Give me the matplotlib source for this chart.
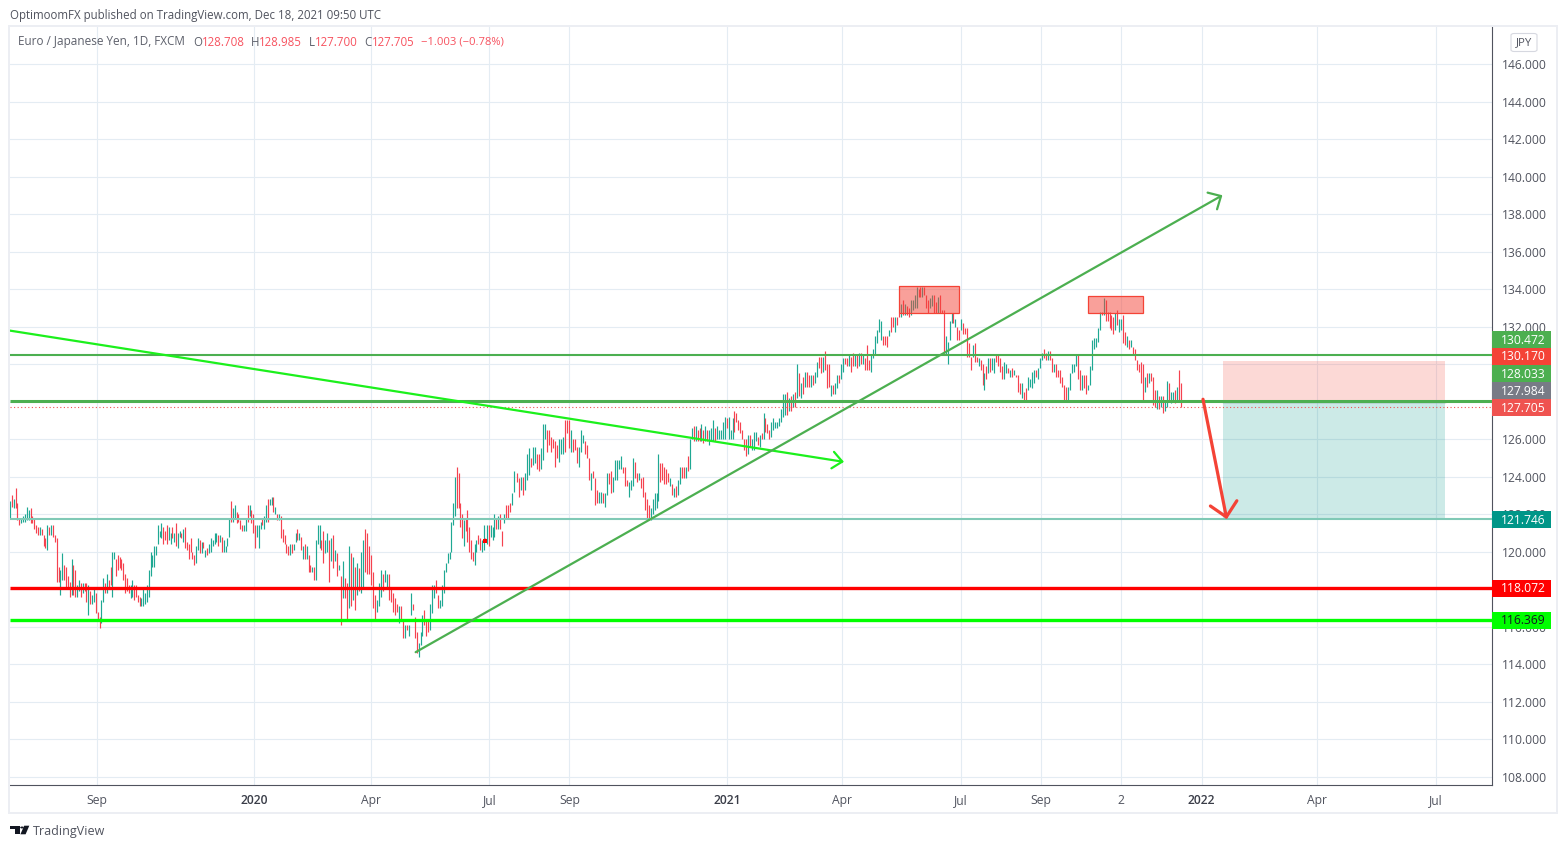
import numpy as np
import matplotlib
matplotlib.use("Agg")
import matplotlib.pyplot as plt
from matplotlib.patches import Rectangle, Polygon, Circle, FancyBboxPatch

FONT = "Open Sans"
plt.rcParams["font.family"] = FONT
W, H = 1566, 848

# ---------------- data ----------------
highs = [
122.7,123.0,122.8,123.4,122.6,121.8,121.8,121.9,122.0,122.4,
122.2,122.3,121.9,121.8,121.4,121.3,121.3,121.2,120.9,120.7,
121.4,121.3,121.4,121.4,120.9,120.7,119.2,119.0,119.9,119.3,
119.2,118.7,118.4,119.6,119.3,119.0,118.2,118.5,118.3,118.3,
118.3,118.3,118.2,117.9,117.7,118.0,117.8,116.8,116.5,117.4,
118.6,118.3,118.8,118.5,119.2,120.0,120.0,119.6,119.8,119.7,
119.6,119.4,118.8,118.6,118.2,118.2,118.5,118.2,118.2,117.7,
117.6,117.5,118.0,117.8,118.2,119.0,120.0,119.8,120.3,120.3,
121.4,121.1,121.5,121.3,121.1,121.4,121.3,121.0,121.3,121.0,
121.5,121.0,121.1,121.0,121.2,121.3,120.5,120.4,120.7,120.0,
119.8,120.3,120.7,120.6,120.5,120.5,120.1,120.2,120.4,120.7,
120.6,121.0,121.0,120.9,120.9,120.8,120.6,120.3,120.7,121.8,
122.7,122.3,122.5,122.1,122.0,121.7,121.4,121.4,121.8,122.5,
122.5,122.2,122.0,121.4,121.4,121.4,121.6,121.8,121.9,122.5,
122.8,122.8,122.9,122.9,122.4,122.0,122.0,121.9,121.2,120.9,
120.4,120.3,120.4,120.4,120.4,121.0,121.2,121.0,120.8,120.3,
120.4,120.3,119.8,119.3,119.2,119.2,120.6,121.4,121.4,120.6,
121.1,120.6,121.0,120.6,120.7,120.9,120.1,119.9,119.3,118.7,
119.5,118.6,118.3,120.3,119.9,119.7,119.2,119.4,119.1,120.0,
120.6,121.2,121.0,120.3,119.8,118.9,117.7,117.4,118.3,119.0,
118.8,119.0,118.8,118.8,118.0,117.8,117.5,117.2,117.1,117.1,
116.3,116.1,116.1,116.1,117.8,117.2,116.5,115.7,115.1,115.7,
116.6,116.9,116.3,116.3,117.2,118.2,118.2,118.5,117.7,117.4,
118.2,119.0,119.4,119.9,120.0,121.6,122.6,124.0,124.5,124.2,
122.6,122.0,121.7,121.8,122.2,121.3,120.6,120.0,120.4,120.6,
120.9,120.7,120.6,121.4,120.7,121.4,121.4,121.4,121.3,122.0,
121.8,121.9,122.0,121.1,122.0,122.5,122.5,122.6,123.1,124.3,
124.2,123.9,124.0,124.0,124.2,125.2,125.5,125.0,125.6,125.6,
125.2,125.2,125.5,126.8,126.8,126.5,126.5,126.1,126.0,125.9,
125.7,126.0,126.0,126.1,127.0,127.0,127.0,126.5,126.0,126.0,
125.6,125.6,126.5,126.2,125.9,125.7,125.0,124.2,124.3,123.9,
123.3,123.2,123.2,123.1,123.1,124.2,124.2,124.3,124.0,124.9,
124.9,124.9,125.1,124.5,124.5,123.8,123.7,123.8,125.0,124.8,
124.2,124.2,123.9,124.0,123.2,122.8,122.5,122.3,122.8,123.1,
123.1,125.2,124.7,124.7,124.5,124.4,124.2,123.9,123.6,123.4,
123.5,123.8,124.5,124.5,124.5,124.5,125.1,126.0,126.6,126.7,
126.7,126.5,126.6,126.8,126.5,126.7,126.5,126.5,126.6,127.0,
126.6,126.7,126.5,126.5,126.9,127.2,127.1,127.2,126.5,127.1,
127.5,127.4,127.0,126.9,126.5,126.0,126.0,126.2,126.2,126.0,
126.4,126.4,126.1,126.2,126.3,127.4,127.1,126.8,126.5,126.9,
127.1,126.9,126.9,127.1,127.6,128.4,128.4,128.5,128.2,128.3,
128.4,128.5,130.0,129.5,129.0,129.3,129.6,129.6,129.4,129.4,
129.4,129.6,130.1,130.4,130.4,130.4,130.7,130.0,130.0,128.9,
128.9,129.0,129.4,129.4,130.0,130.3,130.3,130.3,130.5,130.4,
130.6,130.5,130.5,130.6,130.6,130.5,130.3,131.0,130.2,130.5,
130.8,131.5,131.8,132.4,132.3,131.5,131.5,131.5,131.8,132.5,
132.5,132.5,132.5,132.7,133.2,133.4,133.2,133.1,133.0,133.4,
133.4,133.7,134.1,134.0,134.1,134.1,134.1,133.7,133.4,133.5,
133.7,133.7,133.3,133.6,133.7,132.9,132.9,131.5,131.2,132.3,
132.7,132.7,132.4,132.0,131.8,132.4,132.2,131.9,131.9,131.1,
130.4,131.0,131.1,130.4,130.3,130.2,130.0,129.5,129.9,130.3,
130.3,130.3,130.3,130.5,130.5,130.3,129.9,130.1,130.0,129.8,
129.7,129.8,129.7,129.4,129.4,129.0,129.0,128.5,128.7,129.3,
129.2,129.6,129.7,129.7,129.8,130.3,130.6,130.8,130.6,130.7,
130.7,130.3,130.0,130.0,129.7,129.7,129.3,128.9,128.8,128.8,
129.5,130.0,130.0,130.5,130.5,129.7,129.4,129.4,129.4,128.9,
129.9,131.3,131.4,131.4,131.9,132.8,132.8,133.5,133.4,132.8,
132.8,132.6,132.5,132.7,132.9,132.4,132.4,132.6,131.7,131.5,
131.3,131.3,130.9,130.8,130.2,130.0,130.1,130.0,129.3,129.5,
129.5,129.5,129.3,128.6,128.6,128.3,128.3,128.3,128.1,129.1,
129.0,128.5,128.5,128.6,128.8,129.7,128.985,
]
lows = [
121.8,122.4,122.3,122.3,121.7,121.4,121.5,121.6,121.6,121.7,
121.7,121.5,121.5,121.2,121.0,120.9,120.9,120.9,120.3,120.2,
120.1,120.9,120.9,120.8,120.5,118.4,118.4,117.7,118.5,118.5,
118.0,118.0,117.6,117.7,117.7,117.6,117.6,117.9,117.6,117.8,
117.9,117.3,116.6,117.2,117.2,117.3,116.7,116.4,115.9,116.2,
117.3,117.8,117.8,118.1,118.2,117.6,119.6,118.7,119.0,119.1,
119.0,118.5,117.8,117.9,117.8,117.5,117.6,117.4,117.6,117.3,
117.1,117.1,117.1,117.2,117.3,117.6,118.7,119.2,119.2,119.8,
120.4,120.8,120.7,120.4,120.6,120.4,120.6,120.4,120.7,120.5,
120.3,120.2,120.8,120.7,120.5,120.2,120.1,119.6,120.0,119.6,
119.3,119.4,120.1,119.9,119.9,120.2,119.7,119.8,119.9,120.0,
120.3,120.4,120.5,120.3,120.5,120.0,120.0,120.0,120.3,120.8,
121.6,121.6,121.8,121.5,121.6,121.2,121.1,121.1,121.1,121.6,
121.9,121.5,121.0,120.2,120.8,120.2,121.2,121.4,121.2,121.6,
121.6,122.5,122.5,122.1,122.0,121.7,121.7,120.7,120.5,120.4,
119.9,119.8,119.8,119.9,120.1,120.5,120.6,120.6,120.1,119.6,
119.6,119.6,118.9,118.9,118.9,118.5,118.5,120.4,120.2,120.1,
119.4,119.9,120.0,118.4,119.5,119.1,119.5,118.7,119.0,116.1,
117.5,117.5,116.4,117.0,117.1,117.4,116.9,117.7,117.9,117.8,
118.0,118.9,118.8,118.8,118.2,117.0,116.4,116.8,117.1,117.6,
117.9,118.4,118.0,117.4,117.3,116.8,116.6,116.8,116.2,116.4,
115.4,115.4,115.8,115.5,116.6,116.9,115.4,114.6,114.4,115.0,
115.5,116.1,115.5,115.7,115.8,116.7,117.5,117.8,117.0,117.0,
117.1,117.8,118.9,119.4,119.6,120.0,121.4,121.9,122.3,122.3,
121.3,120.7,120.3,121.1,120.5,120.0,119.6,119.5,119.3,120.0,
120.4,120.1,120.0,120.1,120.5,120.4,120.3,120.8,120.6,120.8,
121.2,121.2,121.2,120.3,121.5,121.8,121.8,122.1,122.5,123.2,
123.7,122.9,123.3,123.0,123.3,123.8,124.1,124.5,124.6,124.7,
124.4,124.3,124.4,124.9,126.0,125.3,125.7,125.3,125.5,124.5,
125.0,124.8,125.2,125.2,125.3,126.3,125.5,125.3,125.3,125.4,
124.7,124.5,125.3,125.8,125.2,125.0,123.8,123.3,123.9,122.5,
122.6,122.6,122.6,122.6,122.4,123.0,123.6,123.1,123.2,123.8,
123.8,124.4,124.4,124.2,123.5,123.5,122.9,123.3,123.5,123.9,
123.7,123.8,123.4,122.9,122.2,121.7,121.7,121.7,122.0,122.2,
122.3,122.7,123.7,123.8,123.6,123.6,123.7,123.5,123.0,122.9,
122.9,123.0,123.6,123.9,123.9,123.9,124.3,124.4,126.0,125.9,
125.9,125.9,125.9,125.9,125.8,125.9,125.9,125.7,125.9,125.9,
125.9,126.0,126.0,126.0,126.0,126.0,126.6,126.0,126.0,126.0,
126.4,126.9,126.5,126.3,126.0,125.4,125.1,125.2,125.6,125.4,
125.4,125.9,125.7,125.6,126.0,126.0,126.4,126.3,126.0,126.1,
126.5,126.6,126.6,126.7,126.9,127.2,127.3,127.3,127.5,127.5,
127.7,127.7,128.2,128.3,128.2,128.4,128.8,128.8,128.8,128.8,
128.9,129.0,129.3,129.8,129.5,129.6,129.7,128.7,128.8,128.3,
128.4,128.4,128.7,129.0,129.2,129.6,130.0,129.9,129.9,129.6,
129.9,129.9,129.8,129.9,130.0,130.0,129.7,129.7,129.7,129.6,
130.3,130.5,131.1,131.7,131.3,131.0,131.0,130.9,131.5,131.7,
132.0,131.7,132.1,132.5,132.5,132.6,132.6,132.6,132.5,132.6,
132.9,133.0,133.0,133.6,133.6,133.6,133.7,133.0,132.7,133.0,
133.1,132.7,132.7,132.7,132.7,132.7,130.6,130.5,130.0,131.3,
132.2,132.2,132.0,131.3,131.3,131.8,131.6,131.6,130.4,130.4,
129.7,130.4,130.1,130.1,129.9,129.7,128.9,128.6,129.2,129.5,
129.6,129.7,129.5,130.1,129.9,129.6,129.2,129.2,129.5,129.5,
129.3,129.3,129.4,129.3,128.5,128.4,128.2,128.0,128.0,128.6,
128.8,128.7,129.0,129.3,129.2,129.8,130.2,130.3,130.2,130.2,
130.2,129.6,129.6,129.3,129.3,129.0,128.8,128.1,128.1,128.1,
128.6,129.5,129.6,129.9,129.2,128.6,128.6,128.7,128.4,128.6,
128.9,129.7,130.8,130.9,131.2,131.8,132.6,132.6,132.3,132.3,
131.9,131.8,131.6,131.8,132.1,131.7,131.8,131.1,131.0,130.9,
130.8,130.9,130.5,130.2,129.7,129.6,129.0,128.1,128.5,128.8,
129.0,129.1,127.8,127.7,127.6,127.6,127.7,127.4,127.5,127.7,
128.0,127.9,128.1,127.9,128.0,128.0,127.7,
]
bar_direction = """
u d u d d d u u u u
u d d d d d u d d d
u d u d d d d u u d
d d d u d d u u d u
d d u d u u d d d u
u d u d d u u d d d
d d d d d u u d d d
d u u u u u u u u u
u u u d d d u u d u
d u u d u d d d d d
d u u d u d u d u u
u u u d u d u u u u
d u u d d d d u u d
u d d d u u u d u u
d u u d u d u d d d
d d u d u u d u d u
d u d d u d u u u d
d u u d u d u d u d
u d d u d u d u d u
u d d d d d d u u u
d u u d d d d d u d
d u d u u d d d u u
u d d d u u u d d u
u u u u u u u u d d
d d u d d d d d u u
d d u u d u d u u u
d u d d u d d d u u
d d u d u u u d u u
d d u u u d d d d d
d u u u d d d u d d
d u u u d d d u d d
d u u d u u d d u u
u u u d d d u u u d
d u d d d d d u u u
u u d d d d d u d u
d u u d d u d u u d
u d d u d u d u u u
d u u u u u d u u u
d d d d d d d u d u
u u d u d u d d d u
u u u u u u u d u d
u d u d u d u d d u
d u u d d u d d d u
d u u d u u d d u d
d u d u d u d d d u
u u u u u d d d u d
d u d d u d u d d u
u u u d d u d d d u
u d d u d d d u u u
u d u d d u d d d d
d u d d u d d u d u
d u u d d d d u u d
u d u d d d u d d u
u u u d u u u d d u
d d u d d d d d d u
u u u u d d u d d u
u u u u u u d u d d
d d d u d u u d d u
d u d d d d d d u d
u d d d u d u d u u
d u u d u d d
""".split()

if not (len(highs) == len(lows) == len(bar_direction)):
    raise SystemExit(f"lengths {len(highs)} {len(lows)} {len(bar_direction)}")

price_ticks = list(range(108, 148, 2))
time_labels = ["Sep", "2020", "Apr", "Jul", "Sep", "2021", "Apr", "Jul", "Sep", "2", "2022", "Apr", "Jul"]
time_ticks = [48.1, 134.6, 199.0, 264.1, 308.2, 395.2, 458.6, 524.1, 568.2, 612.3, 656.6, 720.1, 785.7]

level_resistance = 130.472
level_entry = 128.033
level_last = 127.705
level_target = 121.746
level_red = 118.072
level_lime = 116.369
level_stop = 130.170

tag_values = ["130.472", "130.170", "128.033", "127.984", "127.705", "121.746", "118.072", "116.369"]
tag_colors = ["#4caf50", "#f44336", "#4caf50", "#787b86", "#ef5350", "#009688", "#ff0000", "#00ff00"]
tag_text_colors = ["white"] * 7 + ["#131722"]
tag_top_px = [331, 348, 365, 382, 399, 511, 580, 612]

# ---------------- geometry ----------------
L, R, T, B = 10, 1492, 27, 785
Y_A, Y_K = 776.5, 18.75     # pixel row of 108 and pixels per yen
STEP = 1.815                # pixels per session

def fx(x): return x / W
def fy(y): return 1 - y / H

fig = plt.figure(figsize=(W / 100, H / 100), dpi=100, facecolor="white")
ax = fig.add_axes([fx(L), fy(B), (R - L) / W, (B - T) / H])
ax.set_xlim(0, (R - L) / STEP)
ax.set_ylim(108 + (Y_A - B) / Y_K, 108 + (Y_A - T) / Y_K)
ax.set_facecolor("white")

GRID = "#e4ecf3"
ax.set_yticks(price_ticks)
ax.set_yticklabels([f"{p}.000" for p in price_ticks])
ax.yaxis.tick_right()
ax.set_xticks(time_ticks)
ax.set_xticklabels(time_labels)
ax.tick_params(axis="y", length=0, pad=7.3, labelsize=8.7, labelcolor="#50535e")
ax.tick_params(axis="x", length=0, pad=6.2, labelsize=8.7, labelcolor="#50535e")
for lab in ax.get_xticklabels():
    if lab.get_text().startswith("20"):
        lab.set_color("#3a3d48")
        lab.set_fontweight("semibold")
ax.grid(True, color=GRID, linewidth=0.8, zorder=0)
ax.set_axisbelow(True)
for side in ("top", "left"):
    ax.spines[side].set_visible(False)
for side in ("bottom", "right"):
    ax.spines[side].set_color("#50535e")
    ax.spines[side].set_linewidth(0.8)

# ---------------- bars ----------------
n = len(highs)
# where given bars sit on the session axis, so that dense reads stay aligned with the ticks
anchor_bars = [0, 50, 100, 170, 230, 260, 300, 350, 410, 460, 510, 560, 606]
anchor_sessions = [0, 51.4, 101.5, 172.6, 238.2, 267.9, 312.6, 367.1, 431.2, 486.7, 540.1, 594.9, 645.0]
sessions = np.interp(np.arange(n), anchor_bars, anchor_sessions)
UP, DOWN = "#1fa893", "#f5424f"
colors = [UP if d == "u" else DOWN for d in bar_direction]
bars = ax.vlines(sessions, lows, highs, colors=colors, linewidth=0.85, zorder=3)
bars.set_snap(True)
# the small red mark on the 2020 summer pullback
ax.plot([261.5], [120.57], marker="s", ms=2.6, color="#ff0000", mew=0, zorder=4)

# ---------------- drawings ----------------
END = ax.get_xlim()[1]
ax.add_patch(Rectangle((668.3, level_entry), 122.3, level_stop - level_entry, fc="#f44336", alpha=0.2, ec="none", zorder=2))
ax.add_patch(Rectangle((668.3, level_target), 122.3, level_entry - level_target, fc="#009688", alpha=0.2, ec="none", zorder=2))
ax.plot([668.3, 790.6], [127.984, 127.984], color="#787b86", lw=1.0, alpha=0.8, zorder=4)

ax.hlines(level_resistance, 0, END, color="#4caf50", lw=1.5, zorder=5)
ax.hlines(level_entry, 0, END, color="#4caf50", lw=2.2, zorder=5)
ax.hlines(level_last, 0, END, color="#ef5350", lw=0.8, linestyles=(0, (1, 2.2)), zorder=5)
ax.hlines(level_target, 0, END, color="#80c9b6", lw=1.5, zorder=5)
ax.hlines(level_red, 0, END, color="#ff0000", lw=2.4, zorder=5)
ax.hlines(level_lime, 0, END, color="#00ff00", lw=2.4, zorder=5)

def arrow(x0, y0, x1, y1, color, lw, hl, hw):
    ax.annotate("", xy=(x1, y1), xytext=(x0, y0), zorder=6,
                arrowprops=dict(arrowstyle=f"->,head_length={hl},head_width={hw}",
                                color=color, lw=lw, shrinkA=0, shrinkB=0, mutation_scale=1))

arrow(0, 131.78, 459.5, 124.78, "#1cf01c", 1.6, 7.0, 6.0)
arrow(223.5, 114.63, 668.0, 139.0, "#4caf50", 1.6, 7.2, 6.9)
arrow(657.3, 128.12, 670.4, 121.72, "#f44336", 2.3, 10.0, 9.7)

for x0, x1, y0, y1 in ((489.9, 523.0, 132.70, 134.15), (594.2, 624.5, 132.70, 133.65)):
    ax.add_patch(Rectangle((x0, y0), x1 - x0, y1 - y0, fc="#f44336", alpha=0.5, ec="none", zorder=7))
    ax.add_patch(Rectangle((x0, y0), x1 - x0, y1 - y0, fc="none", ec="#f44336", lw=0.9, zorder=7))

# ---------------- frame, tags, header ----------------
FRAME = "#eceef3"
fig.add_artist(Rectangle((fx(9), fy(813)), 1547.5 / W, 787 / H, fill=False, ec=FRAME, lw=1.4,
                         transform=fig.transFigure))
for top, val, col, tc in zip(tag_top_px, tag_values, tag_colors, tag_text_colors):
    fig.add_artist(Rectangle((fx(1492), fy(top + 17)), 59 / W, 17 / H, fc=col, ec="none",
                             transform=fig.transFigure))
    fig.text(fx(1523), fy(top + 9), val, color=tc, fontsize=8.7, ha="center", va="center")

fig.add_artist(FancyBboxPatch((fx(1511), fy(51.5)), 26 / W, 18 / H, boxstyle="round,pad=0,rounding_size=0.002",
                              fc="white", ec="#d6d8e0", lw=0.8, transform=fig.transFigure))
fig.text(fx(1524), fy(42.5), "JPY", color="#50535e", fontsize=8.2, ha="center", va="center")

DARK, GREY, RED = "#50535e", "#5d606b", "#f7525f"
fig.text(fx(10), fy(15), "OptimoomFX published on TradingView.com, Dec 18, 2021 09:50 UTC",
         color=DARK, fontsize=8.3, ha="left", va="center")
legend = [(18, "Euro / Japanese Yen, 1D, FXCM", GREY, 8.5), (193, "O", GREY, 8.3), (202, "128.708", RED, 8.3),
          (250.5, "H", GREY, 8.3), (259, "128.985", RED, 8.3), (308.5, "L", GREY, 8.3), (315, "127.700", RED, 8.3),
          (364, "C", GREY, 8.3), (371.5, "127.705", RED, 8.3), (421, "\u22121.003 (\u22120.78%)", RED, 8.1)]
for x, s, c, fs in legend:
    fig.text(fx(x), fy(42), s, color=c, fontsize=fs, ha="left", va="center")

fig.text(fx(33), fy(831.2), "TradingView", color=DARK, fontsize=9.0, ha="left", va="center")
LOGO = "#131722"
logo_polys = [[(10, 825.7), (19.5, 825.7), (19.5, 834.3), (14.5, 834.3), (14.5, 829.2), (10, 829.2)],
              [(24.2, 825.7), (29.3, 825.7), (25.6, 834.3), (20.4, 834.3)]]
for poly in logo_polys:
    fig.add_artist(Polygon([(fx(x), fy(y)) for x, y in poly], closed=True, fc=LOGO, ec="none",
                           transform=fig.transFigure))
fig.add_artist(Circle((fx(22), fy(827.5)), 1.8 / W, fc=LOGO, ec="none", transform=fig.transFigure))

fig.savefig("out.png", dpi=100, facecolor="white")
